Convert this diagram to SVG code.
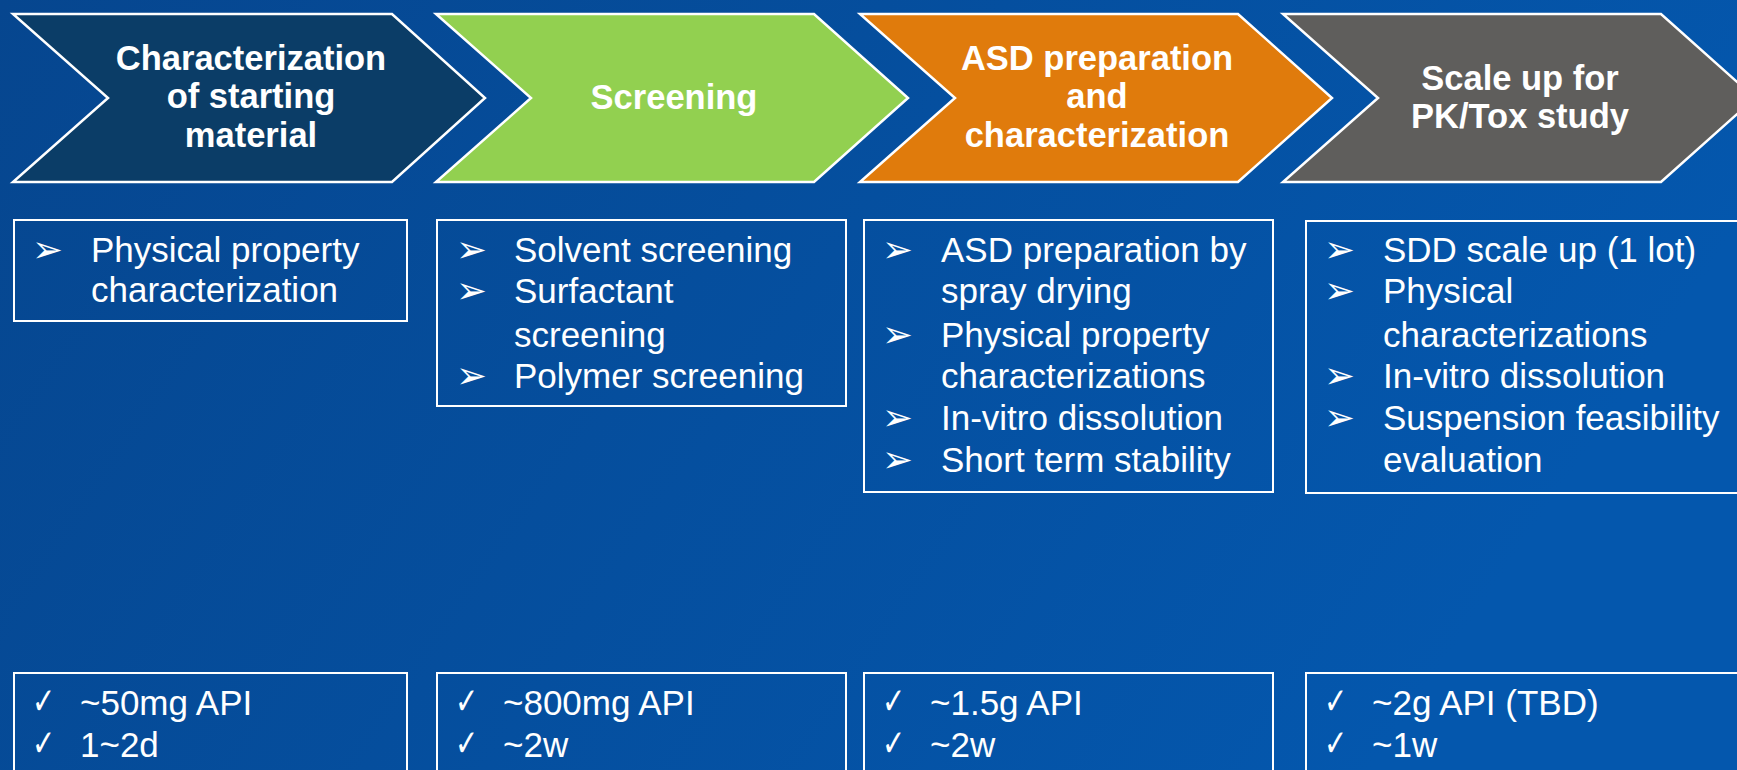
<svg xmlns="http://www.w3.org/2000/svg" width="1737" height="770" viewBox="0 0 1737 770">
<defs>
<linearGradient id="bg" x1="0" y1="0" x2="1" y2="0.3">
<stop offset="0" stop-color="#06468f"/>
<stop offset="1" stop-color="#0457ad"/>
</linearGradient>
<style>
.chev{stroke:#ffffff;stroke-width:2.5;stroke-linejoin:miter}
.box{fill:none;stroke:#ffffff;stroke-width:2}
.h{font-family:"Liberation Sans",Arial,sans-serif;font-weight:bold;font-size:34.5px;fill:#ffffff;text-anchor:middle}
.t{font-family:"Liberation Sans",Arial,sans-serif;font-size:35px;fill:#ffffff}
.b{font-family:"DejaVu Sans",sans-serif;font-size:37px;fill:#ffffff}
.c{font-family:"DejaVu Sans",sans-serif;font-size:37px;fill:#ffffff}
</style>
</defs>
<rect x="0" y="0" width="1737" height="770" fill="url(#bg)"/>

<g id="step1">
<polygon class="chev" fill="#0b3d67" points="13,14 392,14 485,98 392,182 13,182 108,98"/>
<text class="h"><tspan x="251" y="70">Characterization</tspan><tspan x="251" y="108">of starting</tspan><tspan x="251" y="147">material</tspan></text>
</g>
<g id="step2">
<polygon class="chev" fill="#92d050" points="436,14 814,14 908,98 814,182 436,182 531,98"/>
<text class="h"><tspan x="674" y="109">Screening</tspan></text>
</g>
<g id="step3">
<polygon class="chev" fill="#e07b0c" points="860,14 1238,14 1332,98 1238,182 860,182 955,98"/>
<text class="h"><tspan x="1097" y="70">ASD preparation</tspan><tspan x="1097" y="108">and</tspan><tspan x="1097" y="147">characterization</tspan></text>
</g>
<g id="step4">
<polygon class="chev" fill="#5f5e5c" points="1283,14 1661,14 1755,98 1661,182 1283,182 1378,98"/>
<text class="h"><tspan x="1520" y="90">Scale up for</tspan><tspan x="1520" y="128">PK/Tox study</tspan></text>
</g>

<g id="tasks1">
<rect class="box" x="14" y="220" width="393" height="101"/>
<text class="b" x="32" y="262">➢</text>
<text class="t"><tspan x="91" y="262">Physical property</tspan><tspan x="91" y="302">characterization</tspan></text>
</g>
<g id="tasks2">
<rect class="box" x="437" y="220" width="409" height="186"/>
<text class="b"><tspan x="456" y="262">➢</tspan><tspan x="456" y="303">➢</tspan><tspan x="456" y="388">➢</tspan></text>
<text class="t"><tspan x="514" y="262">Solvent screening</tspan><tspan x="514" y="303">Surfactant</tspan><tspan x="514" y="347">screening</tspan><tspan x="514" y="388">Polymer screening</tspan></text>
</g>
<g id="tasks3">
<rect class="box" x="864" y="220" width="409" height="272"/>
<text class="b"><tspan x="882" y="262">➢</tspan><tspan x="882" y="347">➢</tspan><tspan x="882" y="430">➢</tspan><tspan x="882" y="472">➢</tspan></text>
<text class="t"><tspan x="941" y="262">ASD preparation by</tspan><tspan x="941" y="303">spray drying</tspan><tspan x="941" y="347">Physical property</tspan><tspan x="941" y="388">characterizations</tspan><tspan x="941" y="430">In-vitro dissolution</tspan><tspan x="941" y="472">Short term stability</tspan></text>
</g>
<g id="tasks4">
<rect class="box" x="1306" y="221" width="440" height="272"/>
<text class="b"><tspan x="1324" y="262">➢</tspan><tspan x="1324" y="303">➢</tspan><tspan x="1324" y="388">➢</tspan><tspan x="1324" y="430">➢</tspan></text>
<text class="t"><tspan x="1383" y="262">SDD scale up (1 lot)</tspan><tspan x="1383" y="303">Physical</tspan><tspan x="1383" y="347">characterizations</tspan><tspan x="1383" y="388">In-vitro dissolution</tspan><tspan x="1383" y="430">Suspension feasibility</tspan><tspan x="1383" y="472">evaluation</tspan></text>
</g>

<g id="res1">
<rect class="box" x="14" y="673" width="393" height="110"/>
<text class="c" transform="translate(32,714) scale(0.75,1)">✓</text>
<text class="c" transform="translate(32,756) scale(0.75,1)">✓</text>
<text class="t"><tspan x="80" y="715">~50mg API</tspan><tspan x="80" y="757">1~2d</tspan></text>
</g>
<g id="res2">
<rect class="box" x="437" y="673" width="409" height="110"/>
<text class="c" transform="translate(455,714) scale(0.75,1)">✓</text>
<text class="c" transform="translate(455,756) scale(0.75,1)">✓</text>
<text class="t"><tspan x="503" y="715">~800mg API</tspan><tspan x="503" y="757">~2w</tspan></text>
</g>
<g id="res3">
<rect class="box" x="864" y="673" width="409" height="110"/>
<text class="c" transform="translate(882,714) scale(0.75,1)">✓</text>
<text class="c" transform="translate(882,756) scale(0.75,1)">✓</text>
<text class="t"><tspan x="930" y="715">~1.5g API</tspan><tspan x="930" y="757">~2w</tspan></text>
</g>
<g id="res4">
<rect class="box" x="1306" y="673" width="440" height="110"/>
<text class="c" transform="translate(1324,714) scale(0.75,1)">✓</text>
<text class="c" transform="translate(1324,756) scale(0.75,1)">✓</text>
<text class="t"><tspan x="1372" y="715">~2g API (TBD)</tspan><tspan x="1372" y="757">~1w</tspan></text>
</g>
<g id="connectors"></g>
</svg>
